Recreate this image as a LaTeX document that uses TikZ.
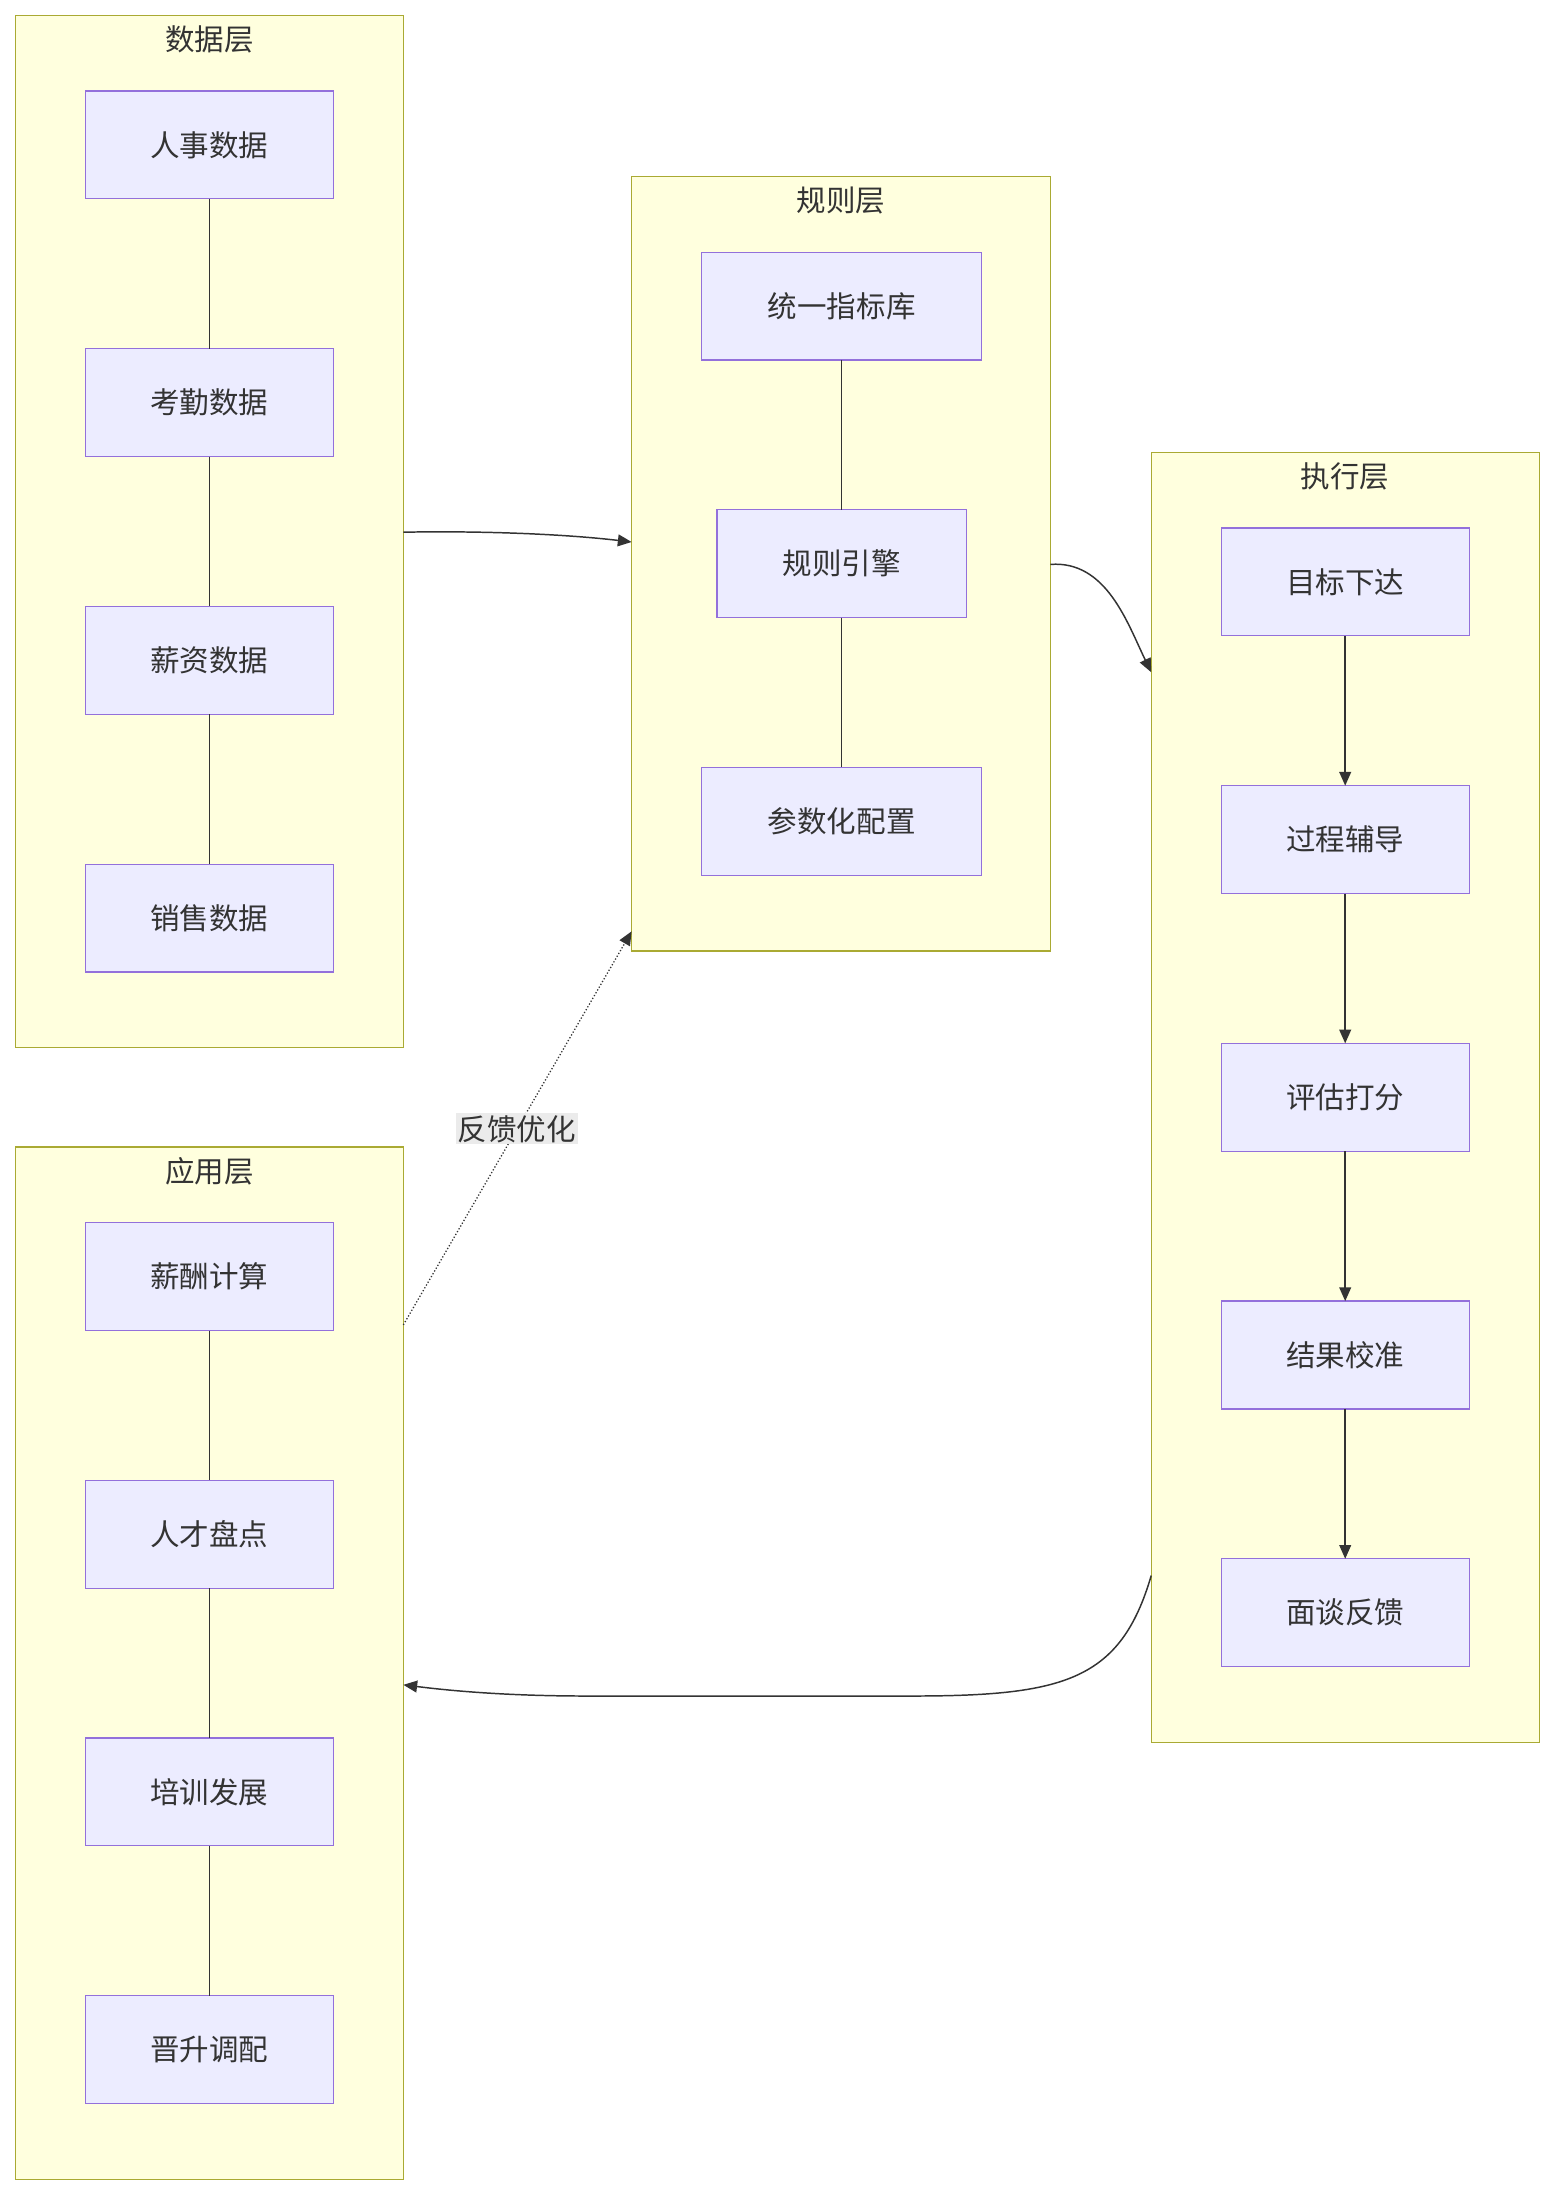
\documentclass[tikz,border=0pt]{standalone}
\usepackage{fontspec}
\setmainfont{Noto Sans CJK SC}
\usetikzlibrary{arrows.meta}
\definecolor{grpfill}{HTML}{FFFFDE}
\definecolor{grpline}{HTML}{AAAA33}
\definecolor{nfill}{HTML}{ECECFF}
\definecolor{nline}{HTML}{9370DB}
\definecolor{ed}{HTML}{333333}
\begin{document}
\begin{tikzpicture}[x=0.05cm,y=-0.05cm,
  grp/.style={draw=grpline,fill=grpfill,line width=1.2pt},
  nd/.style={draw=nline,fill=nfill,line width=1.2pt},
  lbl/.style={font=\fontsize{30}{36}\selectfont,text=ed},
  ln/.style={draw=ed,line width=1.5pt},
  arr/.style={ln,-{Triangle[length=14pt,width=12pt]}}]
\useasboundingbox (0,0) rectangle (1111,1568);
\fill[white] (0,0) rectangle (1111,1568);
% groups
\draw[grp] (11,11) rectangle (288,748); \node[lbl] (t1) at (149.5,28) {数据层};
\draw[grp] (451,126) rectangle (750,679); \node[lbl] (t2) at (600.5,143) {规则层};
\draw[grp] (822,323) rectangle (1099,1244); \node[lbl] (t3) at (960.5,340) {执行层};
\draw[grp] (11,819) rectangle (288,1556); \node[lbl] (t4) at (149.5,836) {应用层};
\coordinate (g1) at (288,380); \coordinate (g2in) at (451,387);
\coordinate (g2out) at (750,403); \coordinate (g3in) at (822,480);
\coordinate (g3out) at (822,1125); \coordinate (g4in) at (288,1203);
\coordinate (g4out) at (288,946); \coordinate (g2b) at (451,665);
% nodes macro
\newcommand{\mynode}[6]{\draw[nd] (#2,#4) rectangle (#3,#5); \node[lbl] (#1) at ({(#2+#3)/2},{(#4+#5)/2}) {#6};}
\mynode{a1}{61}{238}{65}{142}{人事数据}
\mynode{a2}{61}{238}{249}{326}{考勤数据}
\mynode{a3}{61}{238}{433}{510}{薪资数据}
\mynode{a4}{61}{238}{617}{694}{销售数据}
\mynode{b1}{501}{701}{180}{257}{统一指标库}
\mynode{b2}{512}{690}{364}{441}{规则引擎}
\mynode{b3}{501}{701}{548}{625}{参数化配置}
\mynode{c1}{872}{1049}{377}{454}{目标下达}
\mynode{c2}{872}{1049}{561}{638}{过程辅导}
\mynode{c3}{872}{1049}{745}{822}{评估打分}
\mynode{c4}{872}{1049}{929}{1006}{结果校准}
\mynode{c5}{872}{1049}{1113}{1190}{面谈反馈}
\mynode{d1}{61}{238}{873}{950}{薪酬计算}
\mynode{d2}{61}{238}{1057}{1134}{人才盘点}
\mynode{d3}{61}{238}{1241}{1318}{培训发展}
\mynode{d4}{61}{238}{1425}{1502}{晋升调配}
% plain links
\draw[ln] (149.5,142) -- (149.5,249) (149.5,326) -- (149.5,433) (149.5,510) -- (149.5,617);
\draw[ln] (149.5,950) -- (149.5,1057) (149.5,1134) -- (149.5,1241) (149.5,1318) -- (149.5,1425);
\draw[ln] (601,257) -- (601,364) (601,441) -- (601,548);
\draw[arr] (960.5,454) -- (960.5,561);
\draw[arr] (960.5,638) -- (960.5,745);
\draw[arr] (960.5,822) -- (960.5,929);
\draw[arr] (960.5,1006) -- (960.5,1113);
% group links
\draw[arr] (g1) .. controls (340,379) and (400,381) .. (g2in);
\draw[arr] (g2out) .. controls (790,400) and (805,445) .. (g3in);
\draw[arr] (g3out) .. controls (800,1200) and (760,1211) .. (650,1211) -- (420,1211) .. controls (360,1211) and (320,1207) .. (g4in);
\draw[ed,line width=1.3pt,dotted,-{Triangle[length=14pt,width=12pt]}] (g4out) -- (g2b);
\node[lbl,fill=black!8,inner sep=2pt] (fb) at (369,806) {反馈优化};
\end{tikzpicture}
\end{document}
